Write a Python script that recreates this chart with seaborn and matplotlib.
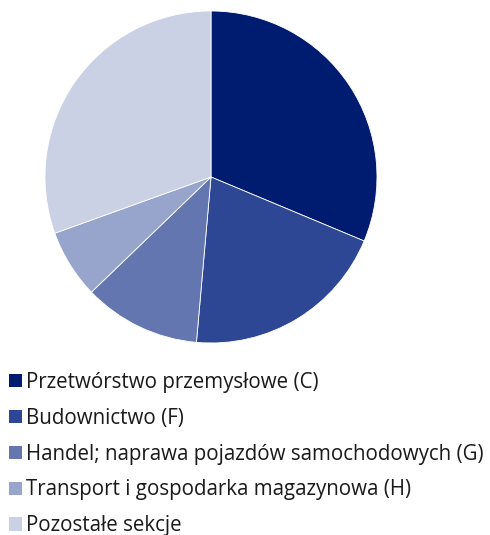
import matplotlib
matplotlib.use("Agg")
import matplotlib.pyplot as plt
import seaborn as sns
from matplotlib.patches import Patch

categories = [
    "Przetwórstwo przemysłowe (C)",
    "Budownictwo (F)",
    "Handel; naprawa pojazdów samochodowych (G)",
    "Transport i gospodarka magazynowa (H)",
    "Pozostałe sekcje",
]
values = [31.3, 20.1, 11.4, 6.7, 30.5]
colors = ["#001c70", "#2e4794", "#6476b0", "#97a4cb", "#cbd1e5"]

sns.set_theme(style="white")
plt.rcParams['font.family'] = ['Open Sans', 'DejaVu Sans']

fig = plt.figure(figsize=(4.9, 5.35), dpi=100)
ax = fig.add_axes([(211 - 166) / 490, (535 - 177 - 166) / 535, 332 / 490, 332 / 535])
ax.pie(values, colors=colors, startangle=90, counterclock=False,
       wedgeprops=dict(edgecolor="white", linewidth=0.6), radius=1.0)
ax.set_xlim(-1, 1)
ax.set_ylim(-1, 1)
ax.set_aspect("equal")
ax.axis("off")

handles = [Patch(facecolor=c, edgecolor="none") for c in colors]
leg = fig.legend(handles, categories, loc="upper left",
                 bbox_to_anchor=(9 / 490, 1 - 372 / 535), frameon=False,
                 fontsize=14.8, handlelength=0.62, handleheight=0.62,
                 handletextpad=0.2, labelspacing=0.72, borderaxespad=0,
                 borderpad=0)
for t in leg.get_texts():
    t.set_color("#1a1a1a")

fig.savefig("out.png", dpi=100)
